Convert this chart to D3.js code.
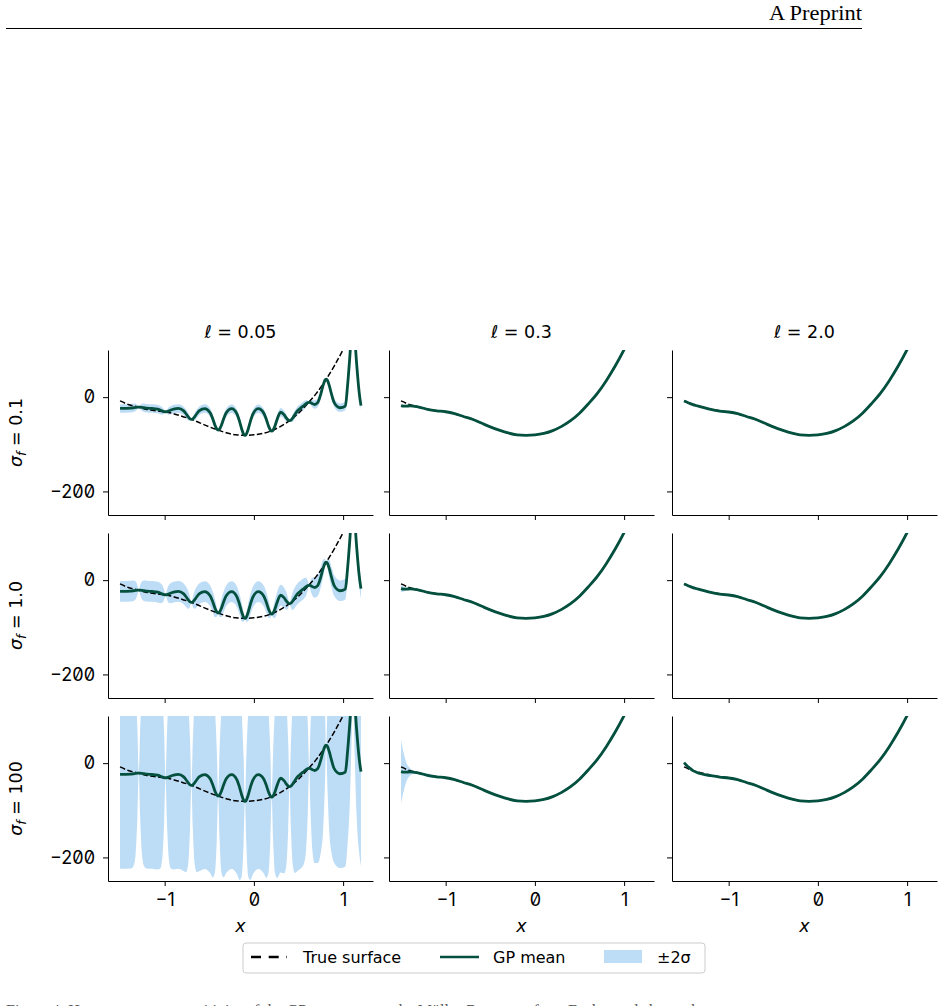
<!DOCTYPE html>
<html>
<head>
<meta charset="utf-8">
<script src="https://cdn.jsdelivr.net/npm/d3@7"></script>
<style>
body { margin: 0; background: #fff; }
svg { display: block; }
.tick text { font-family: Inter, "DejaVu Sans", sans-serif; font-size: 18px; font-feature-settings: "zero" 1; fill: #000; }
.tick line, .domain { stroke: #000; stroke-width: 1; }
.lbl { font-family: "DejaVu Sans", sans-serif; font-size: 17.5px; fill: #000; }
</style>
</head>
<body>
<div id="chart"></div>
<script>
// column / row headers
var lengthScales = ["0.05", "0.3", "2.0"];
var sigmaLabels = ["0.1", "1.0", "100"];
var xTicks = [-1, 0, 1];
var yTicks = [0, -200];

// true surface (dashed)
var trueX = [-1.5,-1.4,-1.3,-1.2,-1.1,-1.0,-0.9,-0.8,-0.7,-0.6,-0.5,-0.4,-0.3,-0.2,-0.1,0.0,0.1,0.2,0.3,0.4,0.5,0.6,0.7,0.8,0.9,1.0,1.1,1.2];
var trueY = [-8,-16,-21,-26,-29,-31,-35,-41,-47,-55,-63,-70,-76,-80,-81,-80,-77,-71,-62,-50,-34,-14,8,35,66,101,140,185];

// l = 0.05 : GP mean and the +-2 sigma half width for each sigma_f row
var xFine = [
  -1.50,
  -1.38,-1.35,-1.325,-1.305,-1.29,-1.275,-1.255,-1.23,-1.20,
  -1.14,
  -1.08,-1.05,-1.025,-1.005,-0.99,-0.975,-0.955,-0.93,-0.90,
  -0.845,
  -0.79,-0.76,-0.735,-0.715,-0.70,-0.685,-0.665,-0.64,-0.61,
  -0.55,
  -0.49,-0.46,-0.435,-0.415,-0.40,-0.385,-0.365,-0.34,-0.31,
  -0.25,
  -0.19,-0.16,-0.135,-0.115,-0.10,-0.085,-0.065,-0.04,-0.01,
  0.05,
  0.11,0.14,0.165,0.185,0.20,0.215,0.235,0.26,
  0.30,
  0.34,0.365,0.385,0.40,0.415,0.435,0.46,0.49,
  0.53,0.56,0.585,0.605,0.62,0.635,0.655,0.68,
  0.715,
  0.75,0.775,0.795,0.81,0.825,0.845,0.87,0.90,
  0.965,1.025,
  1.05,1.075,1.095,1.11,1.125,1.15,1.18,
  1.20];
var meanFine = [
  -24,
  -23.4,-22.5,-21.7,-21.1,-21,-21.1,-21.7,-22.5,-23.4,
  -24,
  -25.4,-27.4,-29.5,-30.7,-31,-30.7,-29.5,-27.4,-25.4,
  -24,
  -28.6,-35.2,-42,-46,-47,-46,-42,-35.2,-28.6,
  -24.3,
  -33.1,-46.4,-60,-68,-70,-68,-60,-46.4,-33.1,
  -24.5,
  -35.3,-51.8,-68.6,-78.5,-81,-78.5,-68.6,-51.8,-35.3,
  -24.5,
  -33.5,-47.4,-61.6,-69.9,-72,-69.9,-61.6,-47.4,
  -32,
  -37.7,-44.4,-48.9,-50,-48.9,-44.4,-36.7,-28.7,
  -22.3,-17.7,-13.8,-11.6,-11,-11.6,-13.8,-15.6,
  -11.7,
  6.6,24.5,35.3,38,35.3,24.5,6.2,-11.7,
  -22.5,-19,
  25,85,140,160,140,75,10,
  -18];
var bandFineS01 = [
  9,
  9,8.8,7.7,4,0,4,7.7,8.8,9,
  9,
  9,8.8,7.7,4,0,4,7.7,8.8,9,
  9,
  9,8.8,7.7,4,0,4,7.7,8.8,9,
  9,
  9,8.8,7.7,4,0,4,7.7,8.8,9,
  9,
  9,8.8,7.7,4,0,4,7.7,8.8,9,
  9,
  9,8.8,7.7,4,0,4,7.7,8.8,
  9,
  8.8,7.7,4,0,4,7.7,8.8,9,
  9,8.8,7.7,4,0,4,7.7,8.8,
  9,
  8.8,7.7,4,0,4,7.7,8.8,9,
  9,9,
  8.8,7.7,4,0,4,8.1,9,
  9];
var bandFineS1 = [
  22,
  22,21.6,18.7,9.9,0,9.9,18.7,21.6,22,
  22,
  22,21.6,18.7,9.9,0,9.9,18.7,21.6,22,
  22,
  22,21.6,18.7,9.9,0,9.9,18.7,21.6,22,
  22,
  22,21.6,18.7,9.9,0,9.9,18.7,21.6,22,
  22,
  22,21.6,18.7,9.9,0,9.9,18.7,21.6,22,
  22,
  22,21.6,18.7,9.9,0,9.9,18.7,21.6,
  22,
  21.6,18.7,9.9,0,9.9,18.7,21.6,22,
  22,21.6,18.7,9.9,0,9.9,18.7,21.6,
  22,
  21.6,18.7,9.9,0,9.9,18.7,21.6,22,
  22,22,
  21.6,18.7,9.9,0,9.9,19.8,22,
  22];
var bandFineS100 = [
  200,
  200,196,170,90,0,90,170,196,200,
  200,
  200,196,170,90,0,90,170,196,200,
  200,
  200,196,170,90,0,90,170,196,200,
  200,
  200,196,170,90,0,90,170,196,200,
  200,
  200,196,170,90,0,90,170,196,200,
  200,
  200,196,170,90,0,90,170,196,
  200,
  196,170,90,0,90,170,196,200,
  200,196,170,90,0,90,170,196,
  200,
  196,170,90,0,90,170,196,200,
  200,200,
  196,170,90,0,90,180,200,
  200];

// l = 0.3 and l = 2.0 : smooth GP means
var xSmooth = [-1.5,-1.47,-1.44,-1.4,-1.35,-1.3,-1.2,-1.1,-1.0,-0.9,-0.8,-0.7,-0.6,-0.5,-0.4,-0.3,-0.2,-0.1,0.0,0.1,0.2,0.3,0.4,0.5,0.6,0.7,0.8,0.9,1.0,1.1,1.2];
var meanL03 = [-18,-19,-19,-18.5,-19.5,-21,-26,-29,-31,-35,-41,-47,-55,-63,-70,-76,-80,-81,-80,-77,-71,-62,-50,-34,-14,8,35,66,101,140,185];
var meanL2 = [-8,-10.5,-13,-16,-18.5,-21,-26,-29.5,-31.5,-35,-41,-47,-55,-63,-70,-76,-80,-81,-80,-77,-71,-62,-50,-34,-14,8,35,66,101,140,185];
var meanL2S100 = [1,-5,-10,-16,-20,-23,-26.5,-29.5,-31.5,-35,-41,-47,-55,-63,-70,-76,-80,-81,-80,-77,-71,-62,-50,-34,-14,8,35,66,101,140,185];
var bandL03S01 = [2,1.5,1,0.5,0,0,0,0,0,0,0,0,0,0,0,0,0,0,0,0,0,0,0,0,0,0,0,0,0,0,0];
var bandL03S1 = [7,5,3,2,1,1,1,0.5,0,0,0,0,0,0,0,0,0,0,0,0,0,0,0,0,0,0,0,0,0,0,0];
var bandL03S100 = [67,40,20,8,3,2,4,3,1,0,0,0,0,0,0,0,0,0,0,0,0,0,0,0,0,0,0,0,0,0,0];
var bandL2 = [0,0,0,0,0,0,0,0,0,0,0,0,0,0,0,0,0,0,0,0,0,0,0,0,0,0,0,0,0,0,0];

var legendItems = ["True surface", "GP mean", "\u00b12\u03c3"];

var meanColor = "#04503f";
var bandColor = "#bddcf5";

var panels = [
  [{x: xFine, m: meanFine, b: bandFineS01}, {x: xSmooth, m: meanL03, b: bandL03S01}, {x: xSmooth, m: meanL2, b: bandL2}],
  [{x: xFine, m: meanFine, b: bandFineS1}, {x: xSmooth, m: meanL03, b: bandL03S1}, {x: xSmooth, m: meanL2, b: bandL2}],
  [{x: xFine, m: meanFine, b: bandFineS100}, {x: xSmooth, m: meanL03, b: bandL03S100}, {x: xSmooth, m: meanL2S100, b: bandL2}]
];

var W = 943, H = 1006;
var colLeft = [108, 389, 672], rowTop = [350, 533, 716];
var pw = 265, ph = 165;

var svg = d3.select("#chart").append("svg").attr("width", W).attr("height", H);

// page header
svg.append("text").attr("x", 862).attr("y", 20).attr("text-anchor", "end")
  .style("font-family", "'Liberation Serif', serif").style("font-size", "20px")
  .attr("textLength", 93).attr("lengthAdjust", "spacingAndGlyphs")
  .text("A Preprint");
svg.append("line").attr("x1", 6).attr("x2", 862).attr("y1", 28.5).attr("y2", 28.5)
  .attr("stroke", "#000").attr("stroke-width", 1);

var x = d3.scaleLinear().domain([-1.635, 1.335]).range([0, pw]);
var y = d3.scaleLinear().domain([-250, 100]).range([ph, 0]);

var trueData = trueX.map(function(d, i) { return [d, trueY[i]]; });
var lineTrue = d3.line().x(function(d) { return x(d[0]); }).y(function(d) { return y(d[1]); }).curve(d3.curveMonotoneX);

panels.forEach(function(row, r) {
  row.forEach(function(p, c) {
    var g = svg.append("g").attr("transform", "translate(" + colLeft[c] + "," + rowTop[r] + ")");
    var cid = "clip" + r + c;
    g.append("clipPath").attr("id", cid).append("rect").attr("width", pw).attr("height", ph);
    var plot = g.append("g").attr("clip-path", "url(#" + cid + ")");

    var pts = p.x.map(function(d, i) { return {x: d, m: p.m[i], w: p.b[i]}; });
    var area = d3.area()
      .x(function(d) { return x(d.x); })
      .y0(function(d) { return y(d.m - d.w); })
      .y1(function(d) { return y(d.m + d.w); })
      .curve(d3.curveMonotoneX);
    plot.append("path").datum(pts).attr("d", area).attr("fill", bandColor);

    plot.append("path").datum(trueData).attr("d", lineTrue)
      .attr("fill", "none").attr("stroke", "#000").attr("stroke-width", 1.5)
      .attr("stroke-dasharray", "5.5,2.4");

    var lineMean = d3.line().x(function(d) { return x(d.x); }).y(function(d) { return y(d.m); }).curve(d3.curveMonotoneX);
    plot.append("path").datum(pts).attr("d", lineMean)
      .attr("fill", "none").attr("stroke", meanColor).attr("stroke-width", 2.8)
      .attr("stroke-linejoin", "round");

    g.append("g").attr("transform", "translate(0," + ph + ")")
      .call(d3.axisBottom(x).tickValues(xTicks).tickSize(5).tickPadding(7).tickSizeOuter(0)
        .tickFormat(r === 2 ? d3.format("d") : function() { return ""; }));
    g.append("g")
      .call(d3.axisLeft(y).tickValues(yTicks).tickSize(5).tickPadding(8).tickSizeOuter(0)
        .tickFormat(c === 0 ? d3.format("d") : function() { return ""; }));

    if (r === 0) {
      g.append("text").attr("class", "lbl").attr("x", pw / 2).attr("y", -12).attr("text-anchor", "middle")
        .text("\u2113 = " + lengthScales[c]);
    }
    if (r === 2) {
      g.append("text").attr("class", "lbl").attr("x", pw / 2).attr("y", ph + 51).attr("text-anchor", "middle")
        .style("font-style", "italic").text("x");
    }
    if (c === 0) {
      var lab = g.append("text").attr("class", "lbl")
        .attr("transform", "translate(" + (-86) + "," + (ph / 2) + ") rotate(-90)")
        .attr("text-anchor", "middle");
      lab.append("tspan").style("font-style", "italic").text("\u03c3");
      lab.append("tspan").style("font-style", "italic").style("font-size", "12.5px").attr("dy", 4).text("f");
      lab.append("tspan").attr("dy", -4).text(" = " + sigmaLabels[r]);
    }
  });
});

// legend
var lg = svg.append("g").attr("transform", "translate(243,943)");
lg.append("rect").attr("width", 462).attr("height", 30).attr("rx", 3)
  .attr("fill", "#fff").attr("stroke", "#cccccc").attr("stroke-width", 1);
lg.append("line").attr("x1", 8).attr("x2", 44).attr("y1", 14).attr("y2", 14)
  .attr("stroke", "#000").attr("stroke-width", 2.5).attr("stroke-dasharray", "10,7.7");
lg.append("line").attr("x1", 197).attr("x2", 236).attr("y1", 14).attr("y2", 14)
  .attr("stroke", meanColor).attr("stroke-width", 2.5);
lg.append("rect").attr("x", 361).attr("y", 7).attr("width", 38).attr("height", 13).attr("fill", bandColor);
var lx = [60, 250, 414];
legendItems.forEach(function(s, i) {
  lg.append("text").attr("x", lx[i]).attr("y", 20).style("font-family", "'DejaVu Sans', sans-serif")
    .style("font-size", "16px").text(s);
});

// caption, cut off by the page edge
svg.append("text").attr("x", 6).attr("y", 1016)
  .style("font-family", "'Liberation Serif', serif").style("font-size", "16px").attr("fill", "#555")
  .text("Figure 4: Hyperparameter sensitivity of the GP surrogate on the M\u00fcller-Brown surface. Each panel shows the mean.");
</script>
</body>
</html>
